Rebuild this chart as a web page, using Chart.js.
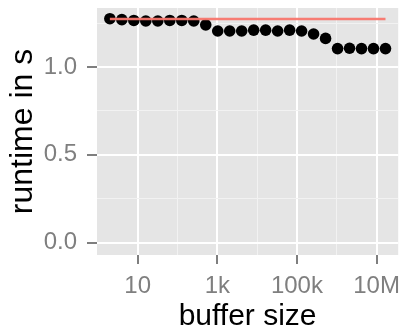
<!DOCTYPE html>
<html>
<head>
<meta charset="utf-8">
<script src="https://cdn.jsdelivr.net/npm/chart.js@4/dist/chart.umd.min.js"></script>
<style>
  html, body { margin: 0; padding: 0; background: #fff; }
  canvas { display: block; }
</style>
</head>
<body>
<canvas id="chart" width="404" height="327"></canvas>
<script>
// buffer sizes (bytes) and measured runtimes
const bufferSizes = [2, 4, 8, 16, 32, 64, 128, 256, 512, 1024, 2048, 4096, 8192, 16384,
  32768, 65536, 131072, 262144, 524288, 1048576, 2097152, 4194304, 8388608, 16777216];
const runtimes = [1.275, 1.270, 1.265, 1.262, 1.262, 1.265, 1.265, 1.262, 1.240, 1.205, 1.205, 1.205,
  1.210, 1.210, 1.205, 1.210, 1.205, 1.188, 1.163, 1.105, 1.107, 1.105, 1.105, 1.105];

// reference runtime (horizontal line)
const refSizes = [2, 16777216];
const refRuntime = [1.273, 1.273];

// axis ticks
const xMajorTicks = [10, 1000, 100000, 10000000];
const xMajorLabels = ['10', '1k', '100k', '10M'];
const xMinorTicks = [100, 10000, 1000000];
const yMajorTicks = [0, 0.5, 1.0];
const yMinorTicks = [0.25, 0.75, 1.25];

const panelBg = {
  id: 'panelBg',
  beforeDraw(chart) {
    const a = chart.chartArea;
    const ctx = chart.ctx;
    ctx.save();
    ctx.fillStyle = '#E5E5E5';
    ctx.fillRect(a.left, a.top, a.right - a.left, a.bottom - a.top);
    ctx.restore();
  }
};

function isMinor(list, v) {
  return list.some(m => Math.abs(m - v) < 1e-9 * Math.max(1, m));
}

const tickFont = { family: 'Liberation Sans', size: 24 };

new Chart(document.getElementById('chart'), {
  type: 'scatter',
  data: {
    datasets: [
      {
        type: 'line',
        data: refSizes.map((s, i) => ({ x: s, y: refRuntime[i] })),
        borderColor: 'rgba(248,118,109,0.95)',
        borderWidth: 2.5,
        pointRadius: 0,
        fill: false
      },
      {
        data: bufferSizes.map((s, i) => ({ x: s, y: runtimes[i] })),
        backgroundColor: '#000',
        borderWidth: 0,
        pointRadius: 5.8
      }
    ]
  },
  options: {
    responsive: false,
    devicePixelRatio: 1,
    animation: false,
    layout: { padding: { top: 8, right: 3, left: 0, bottom: 0 } },
    plugins: { legend: { display: false }, tooltip: { enabled: false } },
    scales: {
      x: {
        type: 'logarithmic',
        min: 0.95,
        max: 3.5e7,
        afterBuildTicks(scale) {
          scale.ticks = xMajorTicks.concat(xMinorTicks).sort((a, b) => a - b).map(v => ({ value: v }));
        },
        afterFit(scale) {
          scale.height = 72;
          scale.paddingLeft = 0;
          scale.paddingRight = 0;
        },
        border: { display: false },
        grid: {
          color: ctx => isMinor(xMinorTicks, ctx.tick.value) ? '#F2F2F2' : '#FFFFFF',
          lineWidth: ctx => isMinor(xMinorTicks, ctx.tick.value) ? 1 : 2,
          tickColor: ctx => isMinor(xMinorTicks, ctx.tick.value) ? 'rgba(0,0,0,0)' : '#7F7F7F',
          tickWidth: 2,
          tickLength: 9
        },
        ticks: {
          autoSkip: false,
          maxRotation: 0,
          padding: 8,
          color: '#7F7F7F',
          font: tickFont,
          callback(v) {
            const i = xMajorTicks.indexOf(v);
            return i >= 0 ? xMajorLabels[i] : '';
          }
        },
        title: {
          display: true,
          text: 'buffer size',
          color: '#000',
          font: { family: 'Liberation Sans', size: 30, lineHeight: 1 },
          padding: { top: 0, bottom: -5 }
        }
      },
      y: {
        min: -0.07,
        max: 1.336,
        afterBuildTicks(scale) {
          scale.ticks = yMajorTicks.concat(yMinorTicks).sort((a, b) => a - b).map(v => ({ value: v }));
        },
        afterFit(scale) {
          scale.width = 97;
          scale.paddingTop = 0;
          scale.paddingBottom = 0;
        },
        border: { display: false },
        grid: {
          color: ctx => isMinor(yMinorTicks, ctx.tick.value) ? '#F2F2F2' : '#FFFFFF',
          lineWidth: ctx => isMinor(yMinorTicks, ctx.tick.value) ? 1 : 2,
          tickColor: ctx => isMinor(yMinorTicks, ctx.tick.value) ? 'rgba(0,0,0,0)' : '#7F7F7F',
          tickWidth: 2,
          tickLength: 10
        },
        ticks: {
          autoSkip: false,
          padding: 10,
          color: '#7F7F7F',
          font: tickFont,
          callback(v) {
            return isMinor(yMinorTicks, v) ? '' : v.toFixed(1);
          }
        },
        title: {
          display: true,
          text: 'runtime in s',
          color: '#000',
          font: { family: 'Liberation Sans', size: 32, lineHeight: 1 },
          padding: { top: 7, bottom: 0 }
        }
      }
    }
  },
  plugins: [panelBg]
});
</script>
</body>
</html>
